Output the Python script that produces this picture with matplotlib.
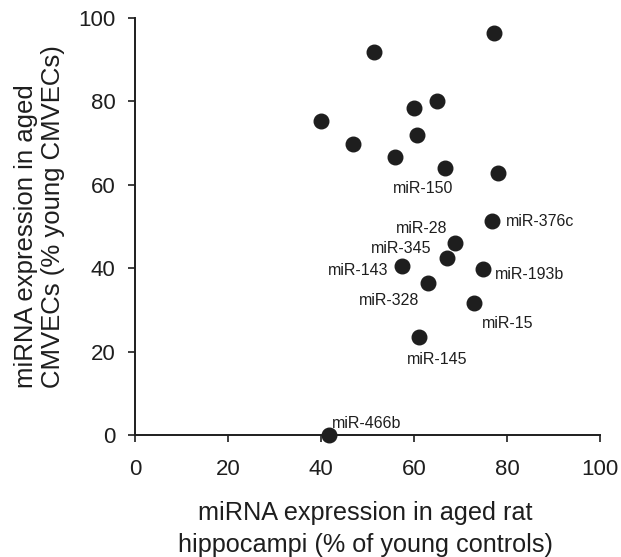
import matplotlib
matplotlib.use("Agg")
import matplotlib.pyplot as plt

plt.rcParams['font.family'] = ['Liberation Sans', 'DejaVu Sans']

# hippocampus (x) vs CMVEC (y) expression, % of young
hippo = [77.3, 51.3, 65.0, 60.0, 40.0, 60.6, 46.9, 55.9, 66.6, 78.1,
         76.8, 68.8, 67.0, 57.5, 74.9, 63.1, 73.0, 61.0, 41.8]
cmvec = [96.3, 91.9, 80.2, 78.3, 75.3, 72.0, 69.7, 66.7, 64.1, 62.8,
         51.3, 46.0, 42.5, 40.5, 39.8, 36.4, 31.6, 23.6, 0.0]

# labelled points: name, text x, text y, alignment
labels = ['miR-150', 'miR-376c', 'miR-28', 'miR-345', 'miR-143',
          'miR-193b', 'miR-328', 'miR-15', 'miR-145', 'miR-466b']
label_x = [62.0, 79.8, 61.7, 57.3, 54.6, 77.3, 54.7, 80.1, 65.0, 42.3]
label_y = [59.0, 51.2, 49.6, 44.8, 39.4, 38.4, 32.2, 26.8, 18.0, 2.8]
label_ha = ['center', 'left', 'center', 'center', 'right',
            'left', 'center', 'center', 'center', 'left']

ink = '#1e1e1e'

fig = plt.figure(figsize=(6.21, 5.57), dpi=100)
ax = fig.add_axes([0.2174, 0.219, 0.7488, 0.7487])

ax.scatter(hippo, cmvec, s=110, color=ink, zorder=3, clip_on=False)

for name, tx, ty, ha in zip(labels, label_x, label_y, label_ha):
    ax.text(tx, ty, name, ha=ha, va='center', fontsize=11.5, color=ink)

ax.set_xlim(0, 100)
ax.set_ylim(0, 100)
ax.set_xticks([0, 20, 40, 60, 80, 100])
ax.set_yticks([0, 20, 40, 60, 80, 100])
ax.tick_params(labelsize=16, direction='out', length=5, width=1.2,
               color=ink, labelcolor=ink)
ax.tick_params(axis='x', pad=12)
ax.tick_params(axis='y', pad=9)
for side in ['top', 'right']:
    ax.spines[side].set_visible(False)
for side in ['left', 'bottom']:
    ax.spines[side].set_linewidth(1.4)
    ax.spines[side].set_color(ink)

ax.set_xlabel('miRNA expression in aged rat\nhippocampi (% of young controls)',
              fontsize=18.2, color=ink, linespacing=1.4)
ax.xaxis.set_label_coords(0.4957, -0.158)
ax.set_ylabel('miRNA expression in aged\nCMVECs (% young CMVECs)',
              fontsize=18.5, color=ink, linespacing=1.15,
              multialignment='left')
ax.yaxis.set_label_coords(-0.1505, 0.5228)

fig.savefig('out.png', dpi=100)
